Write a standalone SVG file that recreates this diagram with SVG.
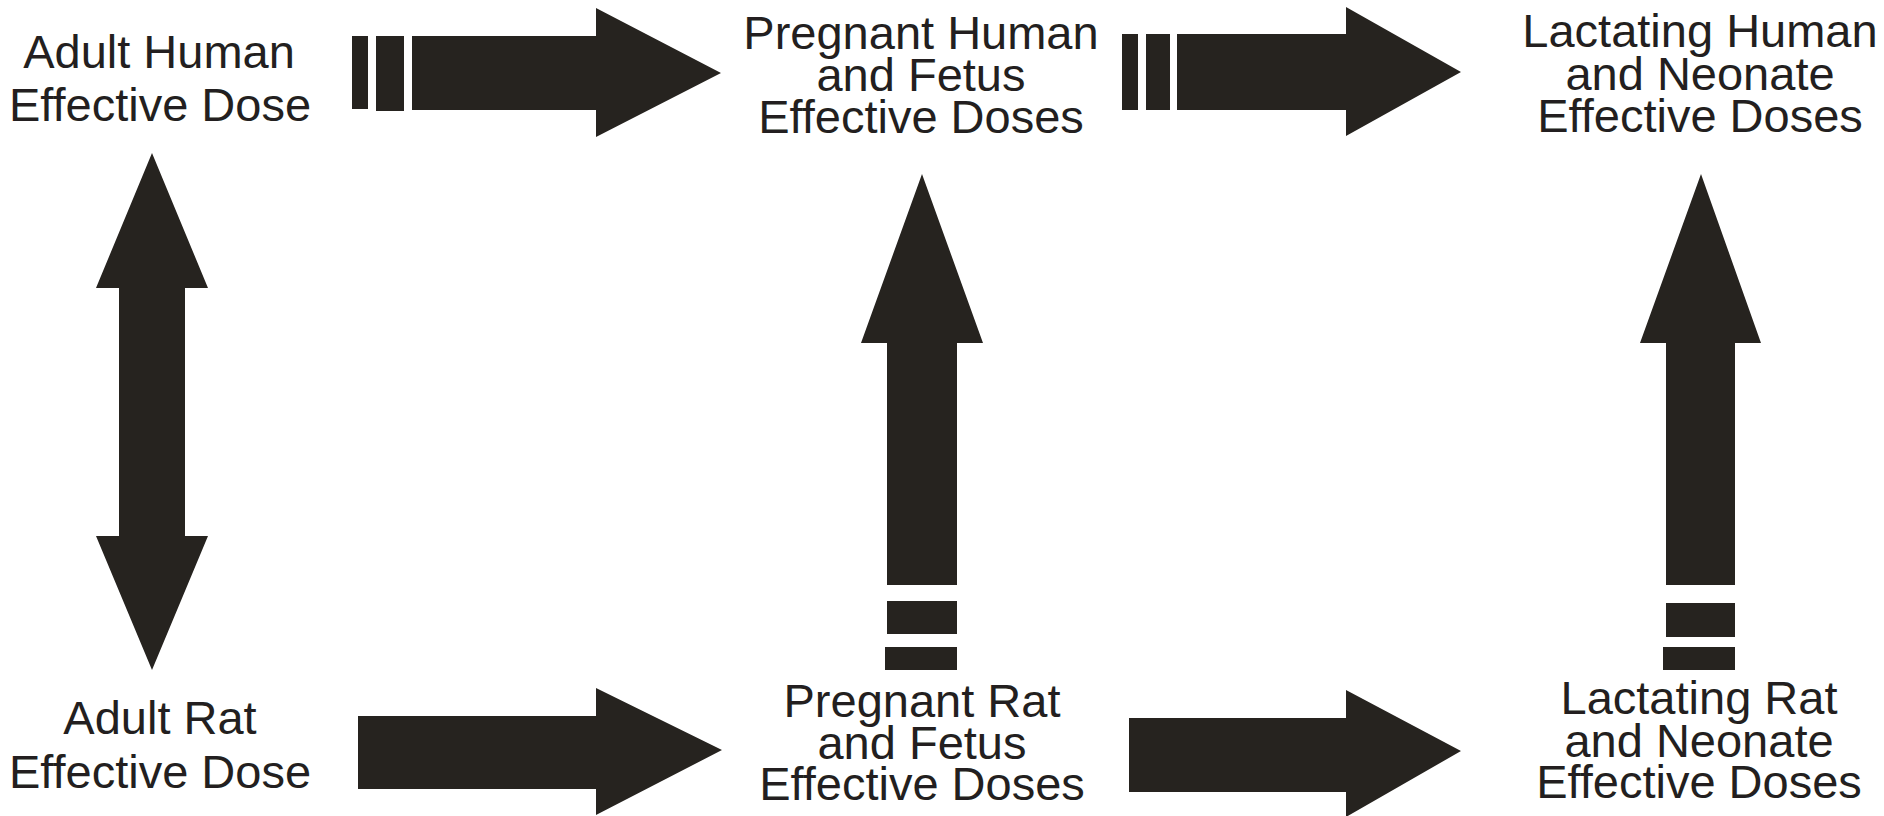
<svg xmlns="http://www.w3.org/2000/svg" width="1884" height="816" viewBox="0 0 1884 816">
<style>
.t{font-family:"Liberation Sans",Arial,sans-serif;font-size:47px;fill:#231f20;text-anchor:middle}
.a{fill:#26231f}
</style>
<rect width="1884" height="816" fill="#ffffff"/>
<g id="connectors">
  <g id="adult-human-to-pregnant-human">
    <rect class="a" x="352" y="36" width="16" height="73"/>
    <rect class="a" x="376" y="36" width="28" height="75"/>
    <polygon class="a" points="412,36 596,36 596,8 721,73 596,137 596,110 412,110"/>
  </g>
  <g id="pregnant-human-to-lactating-human">
    <rect class="a" x="1122" y="34" width="16" height="76"/>
    <rect class="a" x="1146" y="34" width="24" height="76"/>
    <polygon class="a" points="1177,34 1346,34 1346,7 1461,72 1346,136 1346,110 1177,110"/>
  </g>
  <g id="adult-human-adult-rat">
    <polygon class="a" points="152,153 208,288 185,288 185,536 208,536 152,670 96,536 119,536 119,288 96,288"/>
  </g>
  <g id="adult-rat-to-pregnant-rat">
    <polygon class="a" points="358,716 596,716 596,688 722,750 596,815 596,789 358,789"/>
  </g>
  <g id="pregnant-rat-to-lactating-rat">
    <polygon class="a" points="1129,718 1346,718 1346,690 1461,751 1346,817 1346,792 1129,792"/>
  </g>
  <g id="pregnant-rat-to-pregnant-human">
    <polygon class="a" points="922,174 983,343 957,343 957,585 887,585 887,343 861,343"/>
    <rect class="a" x="887" y="601" width="70" height="33"/>
    <rect class="a" x="885" y="647" width="72" height="23"/>
  </g>
  <g id="lactating-rat-to-lactating-human">
    <polygon class="a" points="1701,174 1761,343 1735,343 1735,585 1666,585 1666,343 1640,343"/>
    <rect class="a" x="1666" y="603" width="69" height="34"/>
    <rect class="a" x="1663" y="647" width="72" height="23"/>
  </g>
</g>
<g id="node-adult-human">
  <text class="t" x="159" y="68">Adult Human</text>
  <text class="t" x="160" y="121">Effective Dose</text>
</g>
<g id="node-pregnant-human">
  <text class="t" x="921" y="49">Pregnant Human</text>
  <text class="t" x="921" y="91">and Fetus</text>
  <text class="t" x="921" y="133">Effective Doses</text>
</g>
<g id="node-lactating-human">
  <text class="t" x="1700" y="47">Lactating Human</text>
  <text class="t" x="1700" y="90">and Neonate</text>
  <text class="t" x="1700" y="132">Effective Doses</text>
</g>
<g id="node-adult-rat">
  <text class="t" x="160" y="734">Adult Rat</text>
  <text class="t" x="160" y="788">Effective Dose</text>
</g>
<g id="node-pregnant-rat">
  <text class="t" x="922" y="717">Pregnant Rat</text>
  <text class="t" x="922" y="759">and Fetus</text>
  <text class="t" x="922" y="800">Effective Doses</text>
</g>
<g id="node-lactating-rat">
  <text class="t" x="1699" y="714">Lactating Rat</text>
  <text class="t" x="1699" y="757">and Neonate</text>
  <text class="t" x="1699" y="798">Effective Doses</text>
</g>
</svg>
